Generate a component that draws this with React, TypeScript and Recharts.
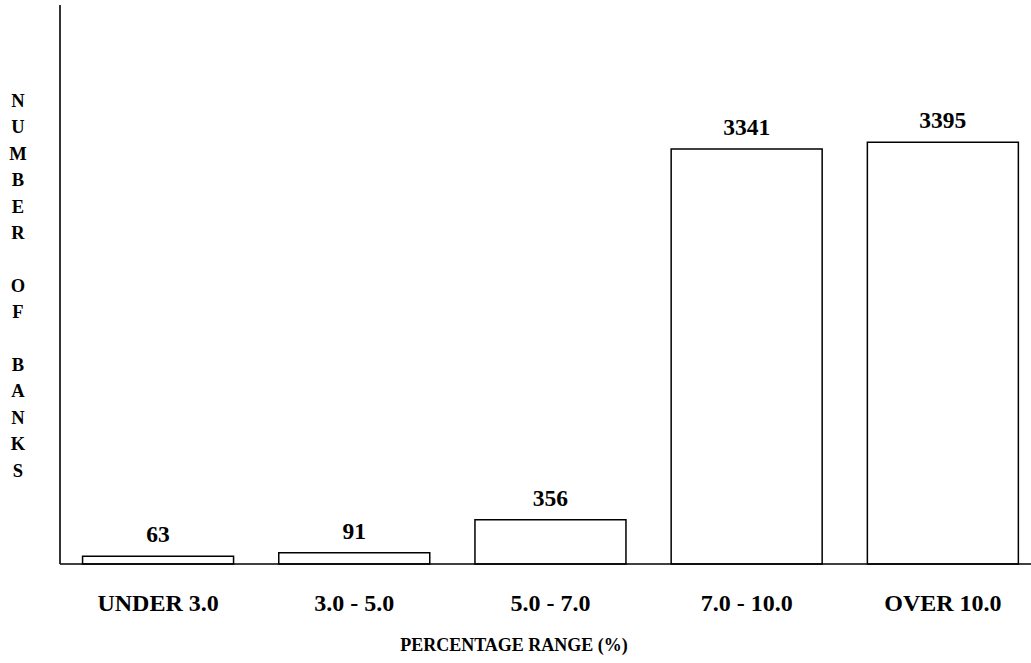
import React from 'react';
import { BarChart, Bar, XAxis, YAxis, LabelList } from 'recharts';

const categories = ['UNDER 3.0', '3.0 - 5.0', '5.0 - 7.0', '7.0 - 10.0', 'OVER 10.0'];
const banks = [63, 91, 356, 3341, 3395];
const yLabelLetters = ['N', 'U', 'M', 'B', 'E', 'R', '', 'O', 'F', '', 'B', 'A', 'N', 'K', 'S'];
const xTitle = 'PERCENTAGE RANGE (%)';

const data = categories.map((c, i) => ({ name: c, value: banks[i] }));

const FONT = '"Liberation Serif", "Times New Roman", serif';

const Tick = (props: any) => {
  const { x, y, payload } = props;
  return (
    <text x={x} y={y} dy={47} textAnchor="middle" fontFamily={FONT} fontWeight="bold" fontSize={24} fill="#000">
      {payload.value}
    </text>
  );
};

const ValueLabel = (props: any) => {
  const { x, y, width, value } = props;
  return (
    <text x={x + width / 2} y={y - 14} textAnchor="middle" fontFamily={FONT} fontWeight="bold" fontSize={23.5} fill="#000">
      {value}
    </text>
  );
};

export default function App() {
  return (
    <div style={{ position: 'absolute', left: 0, top: 0, width: 1031, height: 663, overflow: 'hidden', background: '#fff' }}>
      <BarChart width={1045} height={663} data={data} margin={{ top: 5, right: 4, left: 0, bottom: 0 }} barCategoryGap="11.5%">
        <YAxis
          domain={[0, 4500]}
          width={60}
          tick={false}
          tickLine={false}
          axisLine={{ stroke: '#000', strokeWidth: 1.6 }}
        />
        <XAxis
          dataKey="name"
          height={99}
          tickSize={0}
          tickMargin={0}
          tickLine={false}
          axisLine={{ stroke: '#000', strokeWidth: 1.6 }}
          tick={<Tick />}
          interval={0}
        />
        <Bar dataKey="value" fill="#fff" stroke="#000" strokeWidth={1.5} isAnimationActive={false}>
          <LabelList dataKey="value" content={<ValueLabel />} />
        </Bar>
        <text x={514} y={651} textAnchor="middle" fontFamily={FONT} fontWeight="bold" fontSize={18} fill="#000">
          {xTitle}
        </text>
        <text x={18} y={107} textAnchor="middle" fontFamily={FONT} fontWeight="bold" fontSize={18.5} fill="#000">
          {yLabelLetters.map((l, i) => (
            <tspan key={i} x={18} y={107 + i * 26.4}>
              {l}
            </tspan>
          ))}
        </text>
      </BarChart>
    </div>
  );
}
